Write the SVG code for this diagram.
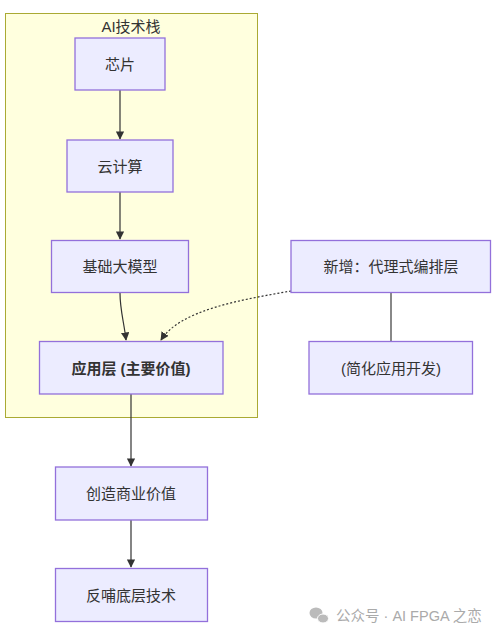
<svg xmlns="http://www.w3.org/2000/svg" width="500" height="638" viewBox="0 0 500 638">
<defs>
<style>
.n rect{fill:#ECECFF;stroke:#9370DB;stroke-width:1.3}
text{font-family:"Liberation Sans","Noto Sans CJK SC",sans-serif;font-size:15px;fill:#333;text-anchor:middle;dominant-baseline:central}
.e{fill:none;stroke:#333;stroke-width:1.2}
</style>
<marker id="ah" viewBox="0 0 10 10" refX="9" refY="5" markerWidth="7" markerHeight="7" orient="auto-start-reverse"><path d="M0,0L10,5L0,10z" fill="#333"/></marker>
</defs>
<rect width="500" height="638" fill="#fff"/>
<g id="cluster">
<rect x="5.5" y="13.5" width="252" height="404" fill="#ffffde" stroke="#aaaa33" stroke-width="1"/>
<text x="131" y="26">AI技术栈</text>
</g>
<g id="edges">
<path class="e" d="M120,90V139" marker-end="url(#ah)"/>
<path class="e" d="M120,192V239" marker-end="url(#ah)"/>
<path class="e" d="M120,293C120,310 124,322 126,340" marker-end="url(#ah)"/>
<path class="e" d="M291,291C240,300 180,310 161,340" stroke-dasharray="2,2" marker-end="url(#ah)"/>
<path d="M391,293V342" stroke="#888" stroke-width="2" fill="none"/>
<path class="e" d="M131,394V466" marker-end="url(#ah)"/>
<path class="e" d="M131,520V567" marker-end="url(#ah)"/>
</g>
<g id="n1" class="n"><rect x="75" y="38" width="90" height="52"/><text x="120" y="64">芯片</text></g>
<g id="n2" class="n"><rect x="67" y="140" width="106" height="52"/><text x="120" y="166">云计算</text></g>
<g id="n3" class="n"><rect x="51.5" y="240.5" width="137" height="52"/><text x="120" y="266.5">基础大模型</text></g>
<g id="n4" class="n"><rect x="39.5" y="341.5" width="183.5" height="52.5"/><text x="131" y="368" font-weight="bold">应用层 (主要价值)</text></g>
<g id="n5" class="n"><rect x="291" y="240.5" width="199.5" height="52"/><text x="391" y="266.5">新增：代理式编排层</text></g>
<g id="n6" class="n"><rect x="309" y="341.5" width="163.5" height="52.5"/><text x="391" y="368">(简化应用开发)</text></g>
<g id="n7" class="n"><rect x="55.5" y="467" width="152" height="53"/><text x="131" y="493.5">创造商业价值</text></g>
<g id="n8" class="n"><rect x="55.5" y="568.5" width="152" height="53"/><text x="131" y="595">反哺底层技术</text></g>
<g id="watermark">
<ellipse cx="316" cy="613" rx="6.5" ry="5.5" fill="#bbb"/>
<ellipse cx="323" cy="618.5" rx="5.5" ry="4.5" fill="#bbb" stroke="#fff" stroke-width="1"/>
<text x="336" y="616" style="text-anchor:start;fill:#aaa;font-size:14.5px">公众号 · AI FPGA 之恋</text>
</g>
</svg>
